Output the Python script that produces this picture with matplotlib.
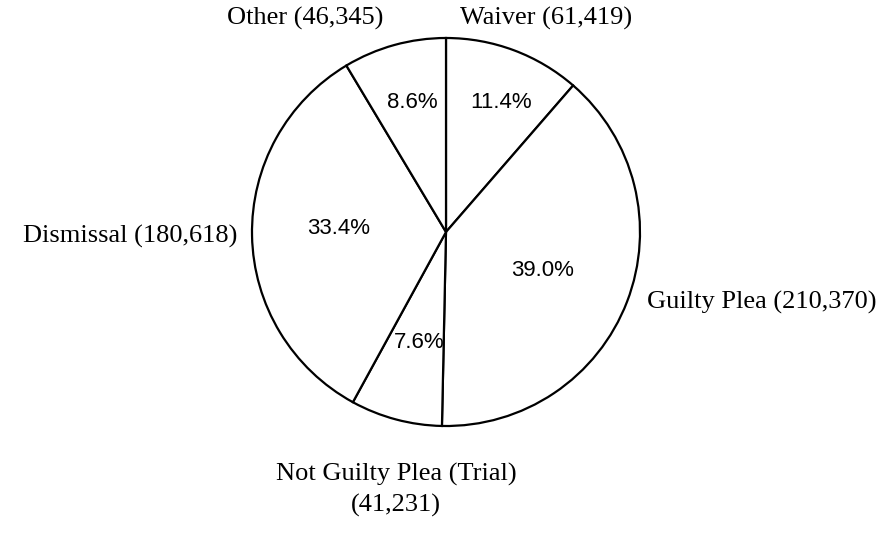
import matplotlib.pyplot as plt

# case dispositions, clockwise from the top
categories = ['Waiver', 'Guilty Plea', 'Not Guilty Plea (Trial)', 'Dismissal', 'Other']
counts = [61419, 210370, 41231, 180618, 46345]

# text placement in pixel space (x right, y down)
name_pos = [(546, 18, 'center'), (647, 302, 'left'), (396, 490, 'center'),
            (237, 236, 'right'), (305, 18, 'center')]
pct_pos = [(501, 103), (543, 271), (419, 343), (339, 229), (412, 103)]

W, H = 889, 533
fig = plt.figure(figsize=(W / 100, H / 100), dpi=100)
ax = fig.add_axes([0, 0, 1, 1])

ax.pie(counts, startangle=90, counterclock=False, center=(446, H - 232), radius=194,
       colors=['white'] * len(counts),
       wedgeprops={'edgecolor': 'black', 'linewidth': 1.6})

# pie() resets the limits, so fix them afterwards
ax.set_xlim(0, W)
ax.set_ylim(0, H)
ax.set_aspect('equal')
ax.axis('off')

total = sum(counts)
serif = 'Liberation Serif'
for name, n, (x, y, ha) in zip(categories, counts, name_pos):
    if name.startswith('Not Guilty'):
        label = f'{name}\n({n:,})'
        ax.text(x, H - y, label, ha='center', va='center', fontsize=19, family=serif,
                linespacing=1.4, multialignment='center')
    else:
        ax.text(x, H - y, f'{name} ({n:,})', ha=ha, va='center', fontsize=19, family=serif)

for n, (x, y) in zip(counts, pct_pos):
    ax.text(x, H - y, f'{n / total * 100:.1f}%', ha='center', va='center',
            fontsize=16, family='Liberation Sans')

fig.savefig('out.png', dpi=100)
